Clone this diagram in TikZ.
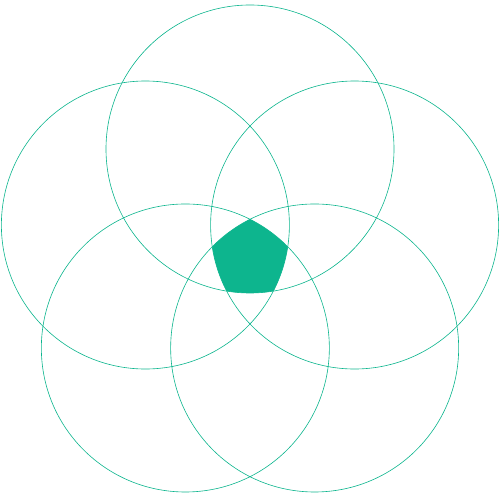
\documentclass[tikz,border=0pt]{standalone}
\usepackage{tikz}
\usetikzlibrary{calc}
\definecolor{Jade}{HTML}{0DB58E}
\begin{document}
\begin{tikzpicture}[
          x=0.02cm, y=0.02cm,
          ring/.style={draw=Jade, line width=0.35pt},
          core/.style={fill=Jade}
        ]
          \useasboundingbox (0,0) rectangle (500,500);
          \coordinate (mid) at (250,241);
          \foreach \a/\n in {90/top,162/upl,234/lowl,306/lowr,18/upr} {
            \coordinate (\n) at ($(mid)+(\a:110)$);
          }
          % filled centre where all five rings overlap
          \begin{scope}
            \clip (top) circle (144);
            \clip (upl) circle (144);
            \clip (lowl) circle (144);
            \clip (lowr) circle (144);
            \clip (upr) circle (144);
            \fill[core] (0,0) rectangle (500,500);
          \end{scope}
          \foreach \n in {top,upl,lowl,lowr,upr} {
            \draw[ring] (\n) circle (144);
          }
        \end{tikzpicture}
\end{document}
